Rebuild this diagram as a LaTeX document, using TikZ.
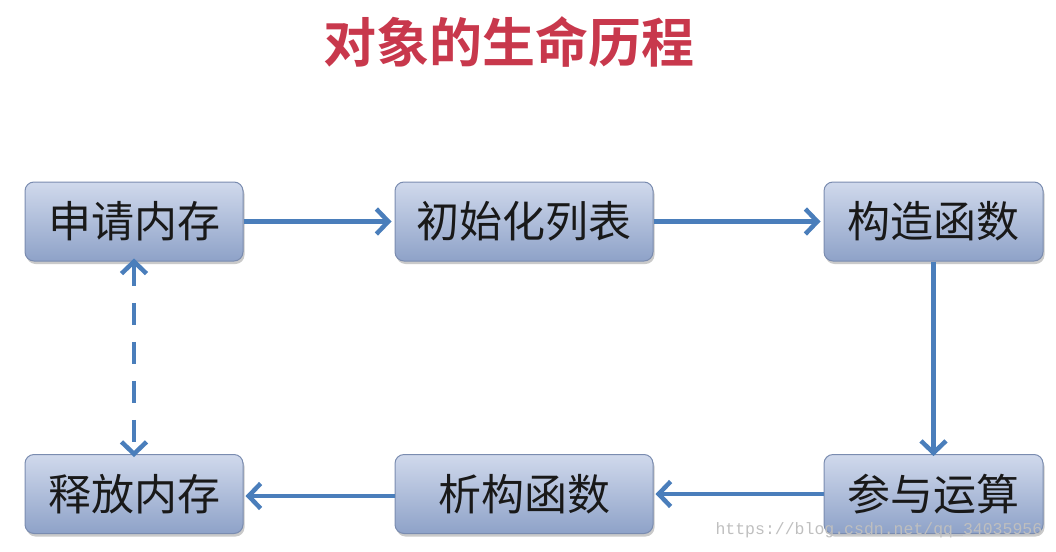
\documentclass[tikz,border=0pt]{standalone}
\usepackage{fontspec}
\newfontfamily\cjk{Noto Sans CJK SC}
\newfontfamily\cjkb{Noto Sans CJK SC Bold}
\newfontfamily\wmfont{Liberation Mono}
\usetikzlibrary{arrows.meta,shadows,positioning}
\definecolor{titlered}{HTML}{C8384C}
\definecolor{arrowblue}{HTML}{4A7EBB}
\definecolor{boxtop}{HTML}{D0D9EC}
\definecolor{boxbot}{HTML}{8EA2C8}
\definecolor{boxline}{HTML}{7A8CB0}
\tikzset{
  x=1pt,y=-1pt,
  stagebox/.style={draw=boxline, line width=1pt, rounded corners=9pt,
    top color=boxtop, bottom color=boxbot, minimum height=79pt,
    font=\cjk\fontsize{43}{45}\selectfont, text=black!90,
    drop shadow={shadow xshift=1.5pt, shadow yshift=-3pt, opacity=0.35, fill=black!60}},
  tip/.style={Straight Barb[length=12pt,width=25pt,line width=4.5pt]},
  flow/.style={draw=arrowblue, line width=4.5pt, -{Straight Barb[length=12pt,width=25pt,line width=4.5pt]}},
  dflow/.style={draw=arrowblue, line width=4.5pt, dash pattern=on 22pt off 17pt,
    {Straight Barb[length=12pt,width=25pt,line width=4.5pt]}-{Straight Barb[length=12pt,width=25pt,line width=4.5pt]}}
}
\begin{document}
\begin{tikzpicture}
\useasboundingbox (0,0) rectangle (1056,551);
\node[font=\cjkb\fontsize{53}{55}\selectfont, text=titlered] (title) at (509,42) {对象的生命历程};
\node[stagebox, minimum width=218pt] (a) at (134,221.5) {申请内存};
\node[stagebox, minimum width=258pt] (b) at (524,221.5) {初始化列表};
\node[stagebox, minimum width=219pt] (c) at (933.5,221.5) {构造函数};
\node[stagebox, minimum width=219pt] (d) at (933.5,494) {参与运算};
\node[stagebox, minimum width=258pt] (e) at (524,494) {析构函数};
\node[stagebox, minimum width=218pt] (f) at (134,494) {释放内存};
\draw[flow] (a.east) -- ([xshift=-3pt]b.west);
\draw[flow] (b.east) -- ([xshift=-3pt]c.west);
\draw[flow] (c.south) -- ([yshift=-2pt]d.north);
\draw[flow] (d.west) -- ([xshift=2pt]e.east);
\draw[flow] ([yshift=-2pt]e.west) -- ([xshift=2pt,yshift=-2pt]f.east);
\draw[dflow] ([yshift=3pt]a.south) -- ([yshift=-3pt]f.north);
\node[font=\wmfont\fontsize{16.5}{18}\selectfont, text=black!25, anchor=west] (wm) at (712,530) {https://blog.csdn.net/qq\_34035956};
\end{tikzpicture}
\end{document}
